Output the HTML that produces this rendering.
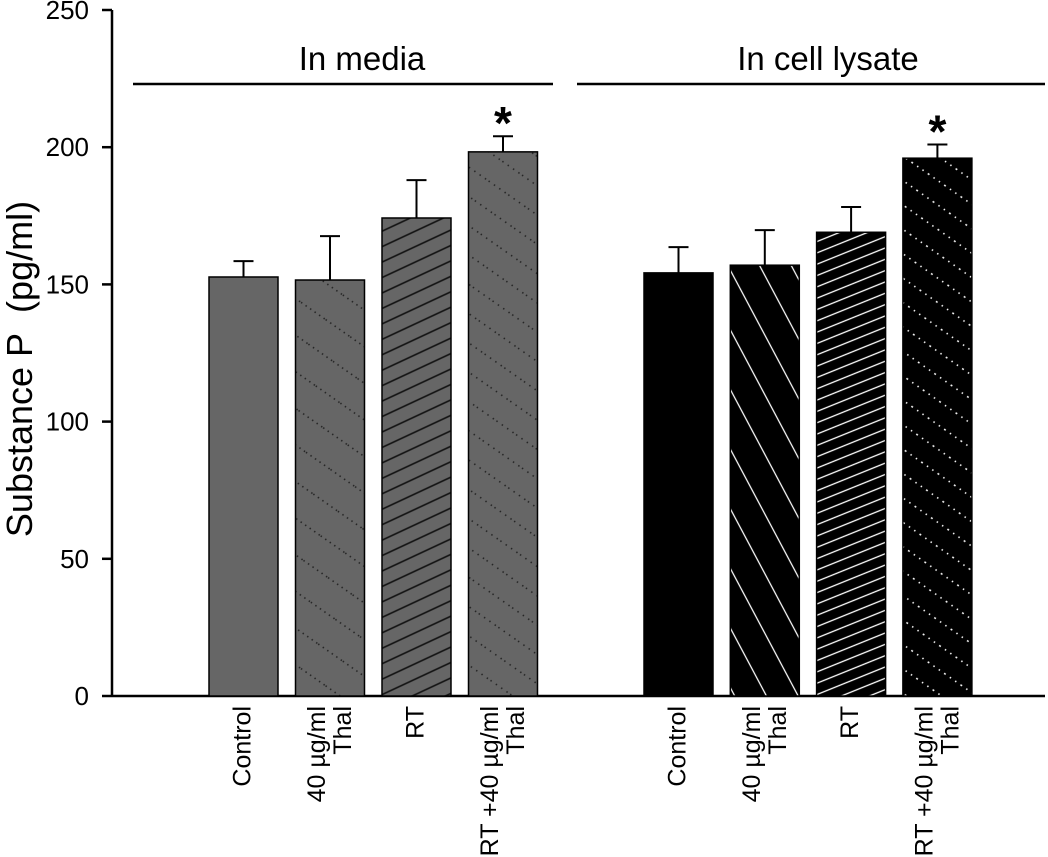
<!DOCTYPE html>
<html><head><meta charset="utf-8"><style>
body{margin:0;background:#fff}
svg{display:block;font-family:"Liberation Sans",Arial,sans-serif}
</style></head><body>
<svg id="chart" width="1048" height="857" viewBox="0 0 1048 857">
<defs>
<pattern id="p-dotmed" patternUnits="userSpaceOnUse" width="30" height="30" patternTransform="rotate(35)">
<rect width="30" height="30" fill="#666"/><line x1="0" y1="15" x2="30" y2="15" stroke="#222" stroke-width="1.6" stroke-dasharray="1.5,4"/></pattern>
<pattern id="p-hatchmed" patternUnits="userSpaceOnUse" width="14" height="14" patternTransform="rotate(-25)">
<rect width="14" height="14" fill="#666"/><line x1="0" y1="7" x2="14" y2="7" stroke="#111" stroke-width="1.6"/></pattern>
<pattern id="p-dotmed2" patternUnits="userSpaceOnUse" width="24" height="24" patternTransform="rotate(35)">
<rect width="24" height="24" fill="#666"/><line x1="0" y1="12" x2="24" y2="12" stroke="#222" stroke-width="1.6" stroke-dasharray="1.5,5"/></pattern>
<pattern id="p-hatchlys1" patternUnits="userSpaceOnUse" width="28" height="28" patternTransform="rotate(62)">
<rect width="28" height="28" fill="#000"/><line x1="0" y1="14" x2="28" y2="14" stroke="#fff" stroke-width="1.3"/></pattern>
<pattern id="p-hatchlys2" patternUnits="userSpaceOnUse" width="10.5" height="10.5" patternTransform="rotate(-22)">
<rect width="11" height="11" fill="#000"/><line x1="0" y1="5" x2="11" y2="5" stroke="#fff" stroke-width="1.3"/></pattern>
<pattern id="p-dotlys" patternUnits="userSpaceOnUse" width="20" height="20" patternTransform="rotate(35)">
<rect width="20" height="20" fill="#000"/><line x1="0" y1="10" x2="20" y2="10" stroke="#fff" stroke-width="1.5" stroke-dasharray="1.5,5"/></pattern>
</defs>
</svg>
<script>
const categories = ["Control","40 µg/ml|Thal","RT","RT +40 µg/ml|Thal","Control","40 µg/ml|Thal","RT","RT +40 µg/ml|Thal"];
const groups = ["In media","In cell lysate"];
const values = [152.7,151.6,174.2,198.3,154.2,157,169,196];
const errors = [5.8,16,13.8,5.7,9.4,12.8,9.2,5];
const significant = [false,false,false,true,false,false,false,true];
const yTicks = [0,50,100,150,200,250];

const svg = document.getElementById('chart');
const NS = 'http://www.w3.org/2000/svg';
const fills = ['#666','url(#p-dotmed)','url(#p-hatchmed)','url(#p-dotmed2)','#000','url(#p-hatchlys1)','url(#p-hatchlys2)','url(#p-dotlys)'];
const y0 = 696, yTop = 10, yMax = 250;
const y = v => y0 - v / yMax * (y0 - yTop);
const barW = 69;
const x = i => i < 4 ? 209 + i * 86.5 : 644 + (i - 4) * 86.3;
function mk(tag, attrs, text){const e=document.createElementNS(NS,tag);for(const k in attrs)e.setAttribute(k,attrs[k]);if(text!==undefined)e.textContent=text;svg.appendChild(e);return e;}

// axes
let e = mk('line',{x1:112,y1:y0,x2:1045,y2:y0,stroke:'#000','stroke-width':2.5});
 
e = mk('line',{x1:112,y1:yTop,x2:112,y2:y0,stroke:'#000','stroke-width':2.5});
 
yTicks.forEach(t=>{
  const tk = mk('line',{x1:102,y1:y(t),x2:112,y2:y(t),stroke:'#000','stroke-width':2.5});
   
  const lb = mk('text',{x:89,y:y(t)+9,'text-anchor':'end','font-size':26},t);
   
});
e = mk('text',{transform:'translate(32,369) rotate(-90)','text-anchor':'middle','font-size':36},'Substance P\u00a0\u00a0(pg/ml)');
 

// groups
[[133,553,362],[577,1045,828]].forEach((g,i)=>{
  const l = mk('line',{x1:g[0],y1:84,x2:g[1],y2:84,stroke:'#000','stroke-width':2.5});
   
  const t = mk('text',{x:g[2],y:70,'text-anchor':'middle','font-size':33},groups[i]);
   
});

values.forEach((v,i)=>{
  const bx = x(i), cx = bx + barW/2;
  const hi = y(v + errors[i]);
  const el = mk('line',{x1:cx,y1:y(v),x2:cx,y2:hi,stroke:'#000','stroke-width':2});
   
  const cap = mk('line',{x1:cx-10,y1:hi,x2:cx+10,y2:hi,stroke:'#000','stroke-width':2});
   
  const r = mk('rect',{x:bx,y:y(v),width:barW,height:y0-y(v),fill:fills[i],stroke:'#000','stroke-width':1.5});
   
  if(significant[i]){
    const s = mk('text',{x:cx,y:hi+3,'text-anchor':'middle','font-size':46,'font-weight':'bold'},'*');
     
  }
  const lines = categories[i].split('|');
  const n = lines.length;
  lines.forEach((ln,j)=>{
    const lx = n === 1 ? cx + 7 : cx + (j === 0 ? -5 : 21);
    const t = mk('text',{transform:`translate(${lx},706) rotate(-90)`,'text-anchor':'end','font-size':25},ln);
     
  });
});
</script>
</body></html>
